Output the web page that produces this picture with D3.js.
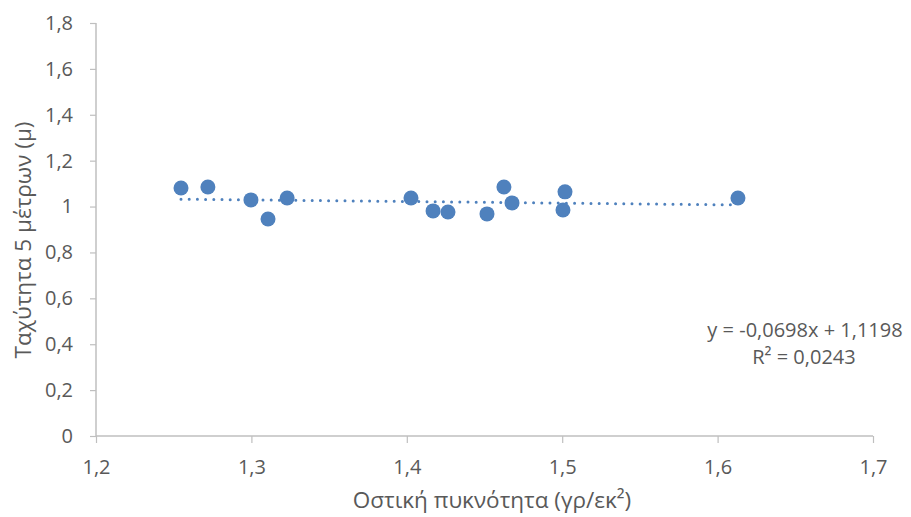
<!DOCTYPE html>
<html lang="el">

<head>
    <meta charset="utf-8">
    <script src="https://d3js.org/d3.v7.min.js"></script>
    <style>
        body { margin: 0; background: #fff; }
        text { font-family: "Open Sans", "Noto Sans", sans-serif; fill: #595959; }
    </style>
</head>

<body>
    <script>
        // bone density (x) vs 5 m speed (y)
        const density = [1.2547, 1.272, 1.2997, 1.3107, 1.323, 1.4027, 1.4169, 1.4265, 1.4516, 1.4625, 1.4677, 1.5005, 1.5018, 1.6131];
        const speed = [1.081, 1.085, 1.029, 0.946, 1.037, 1.037, 0.981, 0.976, 0.968, 1.085, 1.016, 0.985, 1.064, 1.037];

        const xTicks = [1.2, 1.3, 1.4, 1.5, 1.6, 1.7];
        const yTicks = [0, 0.2, 0.4, 0.6, 0.8, 1, 1.2, 1.4, 1.6, 1.8];

        const slope = -0.0698;
        const intercept = 1.1198;
        const eqLabel = "y = -0,0698x + 1,1198";
        const r2Label = "R² = 0,0243";

        const xTitle = "Οστική πυκνότητα (γρ/εκ²)";
        const yTitle = "Ταχύτητα 5 μέτρων (μ)";

        const width = 911, height = 517;
        const margin = { top: 23, right: 38, bottom: 81, left: 96 };
        const w = width - margin.left - margin.right;
        const h = height - margin.top - margin.bottom;

        const greek = d3.formatLocale({ decimal: ",", thousands: ".", grouping: [3], currency: ["", "€"] });
        const fmt = v => greek.format("~g")(v);

        const svg = d3.select("body").append("svg")
            .attr("width", width)
            .attr("height", height);

        const g = svg.append("g")
            .attr("transform", "translate(" + margin.left + "," + margin.top + ")");

        const xScale = d3.scaleLinear().domain([1.2, 1.7]).range([0, w]);
        const yScale = d3.scaleLinear().domain([0, 1.8]).range([h, 0]);

        const xAxis = d3.axisBottom(xScale).tickValues(xTicks).tickFormat(fmt).tickSize(7).tickPadding(17);
        const yAxis = d3.axisLeft(yScale).tickValues(yTicks).tickFormat(fmt).tickSize(6).tickPadding(17);

        const gx = g.append("g")
            .attr("transform", "translate(0," + h + ")")
            .call(xAxis);
        const gy = g.append("g").call(yAxis);

        [gx, gy].forEach(a => {
            a.select(".domain").attr("stroke", "#bfbfbf").attr("stroke-width", 1.5);
            a.selectAll(".tick line").attr("stroke", "#bfbfbf").attr("stroke-width", 1.2);
            a.selectAll(".tick text").style("font-size", "20px").attr("fill", "#595959");
        });
        gx.select(".domain").attr("d", "M0,0H" + w);
        gy.select(".domain").attr("d", "M0," + h + "V0");

        // trendline over the data range
        const xr = d3.extent(density);
        g.append("line")
            .attr("x1", xScale(xr[0]))
            .attr("y1", yScale(slope * xr[0] + intercept))
            .attr("x2", xScale(xr[1]))
            .attr("y2", yScale(slope * xr[1] + intercept))
            .attr("stroke", "#4f81bd")
            .attr("stroke-width", 3)
            .attr("stroke-linecap", "round")
            .attr("stroke-dasharray", "0,8.2");

        g.selectAll("circle")
            .data(density)
            .enter()
            .append("circle")
            .attr("cx", d => xScale(d))
            .attr("cy", (d, i) => yScale(speed[i]))
            .attr("r", 7.5)
            .attr("fill", "#4f81bd");

        svg.append("text")
            .attr("x", 805).attr("y", 337)
            .attr("text-anchor", "middle")
            .style("font-size", "20px")
            .text(eqLabel);
        svg.append("text")
            .attr("x", 804).attr("y", 364)
            .attr("text-anchor", "middle")
            .style("font-size", "20px")
            .text(r2Label);

        svg.append("text")
            .attr("x", 492)
            .attr("y", 508)
            .attr("text-anchor", "middle")
            .style("font-size", "22.5px")
            .text(xTitle);

        svg.append("text")
            .attr("transform", "translate(31,240) rotate(-90)")
            .attr("text-anchor", "middle")
            .style("font-size", "22.5px")
            .text(yTitle);
    </script>
</body>

</html>
